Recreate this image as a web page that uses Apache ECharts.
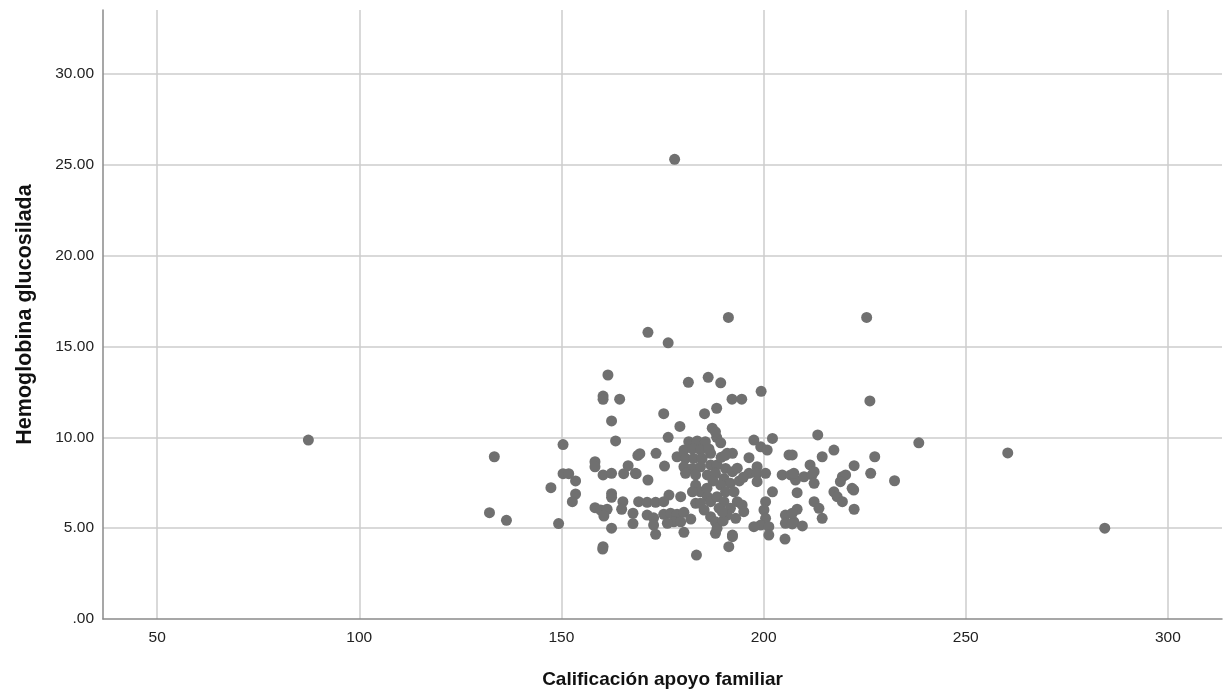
<!DOCTYPE html>
<html>
<head>
<meta charset="utf-8">
<script src="https://cdn.jsdelivr.net/npm/echarts@6/dist/echarts.min.js"></script>
<style>
html,body{margin:0;padding:0;background:#fff;}
#chart{width:1225px;height:694px;}
</style>
</head>
<body>
<div id="chart"></div>
<script>
// Calificación apoyo familiar (x) and Hemoglobina glucosilada (y)
const apoyoFamiliar = [
  87.4,132.2,133.4,136.4,147.4,149.3,150.4,150.4,151.8,153.5,153.5,152.7,158.3,158.3,160.3,162.4,165.4,166.5,168.5,168.9,
  161.5,160.3,160.3,164.4,162.4,163.4,162.4,162.4,165.2,169.1,158.3,159.7,161.3,160.5,164.9,167.7,167.7,162.4,160.3,160.2,
  171.4,176.4,181.4,186.3,189.4,199.4,192.2,194.6,175.3,185.4,188.4,179.3,187.3,176.4,188.4,189.4,188.1,197.6,202.2,199.3,
  200.9,206.3,186.9,191.0,192.3,196.4,169.4,173.4,175.5,178.6,171.4,168.3,
  181.5,183.6,185.6,180.3,182.4,184.4,186.5,180.7,182.7,184.8,180.3,182.4,184.4,186.9,180.7,183.2,186.1,
  183.2,184.4,182.4,186.1,176.6,179.5,171.2,173.3,175.3,183.2,184.4,186.9,171.2,172.8,175.3,177.0,178.6,180.3,182.0,177.8,
  179.5,172.8,176.2,186.9,173.3,180.3,188.1,
  188.5,190.6,192.3,188.1,190.2,191.8,189.4,190.6,192.7,188.5,190.2,196.4,198.4,198.4,200.5,198.4,204.6,206.7,207.9,202.2,
  193.5,194.7,195.1,191.8,191.0,193.1,200.5,200.1,200.5,199.3,197.6,188.1,188.5,192.3,201.3,201.3,205.4,205.4,207.5,191.4,
  183.4,192.3,205.3,191.3,
  225.5,226.3,213.4,238.4,217.4,214.5,227.5,211.5,212.5,222.4,207.1,207.5,210.0,212.0,219.5,220.3,219.0,226.5,212.5,221.9,
  222.3,232.4,208.3,217.4,218.2,219.5,212.5,213.7,214.5,222.4,208.3,207.1,209.6,207.1,260.4,284.4,178.0,
  187.5,186.0,185.3,189.0,190.0,189.8,194.0,193.5,195.0,189.5,190.5
];
const hemoglobina = [
  9.85,5.85,8.93,5.43,7.23,5.25,9.6,8.0,8.0,7.6,6.88,6.46,8.66,8.38,7.93,8.02,8.0,8.44,8.0,9.0,
  13.43,12.27,12.09,12.1,10.9,9.8,6.9,6.7,6.46,6.46,6.13,6.0,6.04,5.67,6.04,5.82,5.25,5.0,3.98,3.85,
  15.78,15.2,13.03,13.3,13.0,12.53,12.1,12.1,11.3,11.3,11.6,10.6,10.5,10.0,10.0,9.7,10.3,9.85,9.94,9.48,
  9.3,9.03,9.12,9.12,9.12,8.88,9.1,9.12,8.42,8.93,7.65,8.02,
  9.76,9.8,9.76,9.3,9.36,9.3,9.36,8.84,8.84,8.84,8.38,8.29,8.38,8.48,8.02,7.93,7.93,
  7.37,7.0,7.0,6.73,6.82,6.73,6.42,6.42,6.46,6.37,6.37,6.46,5.72,5.57,5.76,5.82,5.76,5.87,5.5,5.35,
  5.35,5.17,5.27,5.63,4.66,4.77,4.72,
  8.48,8.29,8.11,8.02,7.74,7.47,7.37,7.0,7.0,6.73,6.46,8.02,8.38,8.02,8.02,7.56,7.93,7.93,7.65,7.0,
  6.46,6.28,5.91,6.09,5.72,5.54,6.46,6.0,5.54,5.17,5.08,5.35,4.99,4.62,5.08,4.62,5.72,5.27,5.35,3.98,
  3.52,4.53,4.4,16.6,
  16.6,12.0,10.13,9.7,9.3,8.93,8.93,8.48,8.11,8.44,9.03,8.02,7.83,7.93,7.83,7.93,7.56,8.02,7.47,7.19,
  7.1,7.61,6.95,7.0,6.73,6.46,6.46,6.09,5.54,6.04,6.04,5.82,5.12,5.23,9.14,5.0,25.3,
  7.6,7.2,6.0,6.1,5.4,5.9,7.6,8.3,7.8,8.9,9.0
];
const xTicks = [50, 100, 150, 200, 250, 300];
const yTicks = [0, 5, 10, 15, 20, 25, 30];

const points = apoyoFamiliar.map((x, i) => [x, hemoglobina[i]]);

const chart = echarts.init(document.getElementById('chart'), null, {renderer: 'canvas'});
const gridColor = '#cccccc';
const axisColor = '#8a8a8a';
const fam = '"Liberation Sans", Arial, sans-serif';
const labelFont = {color: '#222', fontSize: 15.5, fontFamily: fam};

chart.setOption({
  animation: false,
  backgroundColor: '#ffffff',
  grid: {left: 103, right: 3, top: 10, bottom: 75, containLabel: false},
  xAxis: {
    type: 'value',
    min: 36.6,
    max: 313.4,
    minInterval: xTicks[1] - xTicks[0],
    maxInterval: xTicks[1] - xTicks[0],
    name: 'Calificación apoyo familiar',
    nameLocation: 'middle',
    nameGap: 51,
    nameTextStyle: {color: '#111', fontSize: 19, fontWeight: 'bold', fontFamily: fam},
    axisLine: {show: true, lineStyle: {color: axisColor, width: 1.5}},
    axisTick: {show: false},
    axisLabel: Object.assign({margin: 11, showMinLabel: false, showMaxLabel: false,
      formatter: v => xTicks.includes(v) ? String(v) : ''}, labelFont),
    splitLine: {show: true, showMinLine: false, showMaxLine: false, lineStyle: {color: gridColor, width: 1.5}}
  },
  yAxis: {
    type: 'value',
    min: 0,
    max: 33.52,
    interval: yTicks[1] - yTicks[0],
    name: 'Hemoglobina glucosilada',
    nameLocation: 'middle',
    nameGap: 67,
    nameTextStyle: {color: '#111', fontSize: 21.5, fontWeight: 'bold', fontFamily: fam},
    axisLine: {show: true, lineStyle: {color: axisColor, width: 1.5}},
    axisTick: {show: false},
    axisLabel: Object.assign({margin: 9, showMaxLabel: false,
      formatter: v => yTicks.includes(v) ? (v === 0 ? '.00' : v.toFixed(2)) : ''}, labelFont),
    splitLine: {show: true, showMinLine: false, showMaxLine: false, lineStyle: {color: gridColor, width: 1.5}}
  },
  series: [{
    type: 'scatter',
    data: points,
    symbol: 'circle',
    symbolSize: 11,
    itemStyle: {color: '#707070', opacity: 1},
    silent: true
  }]
});
</script>
</body>
</html>
